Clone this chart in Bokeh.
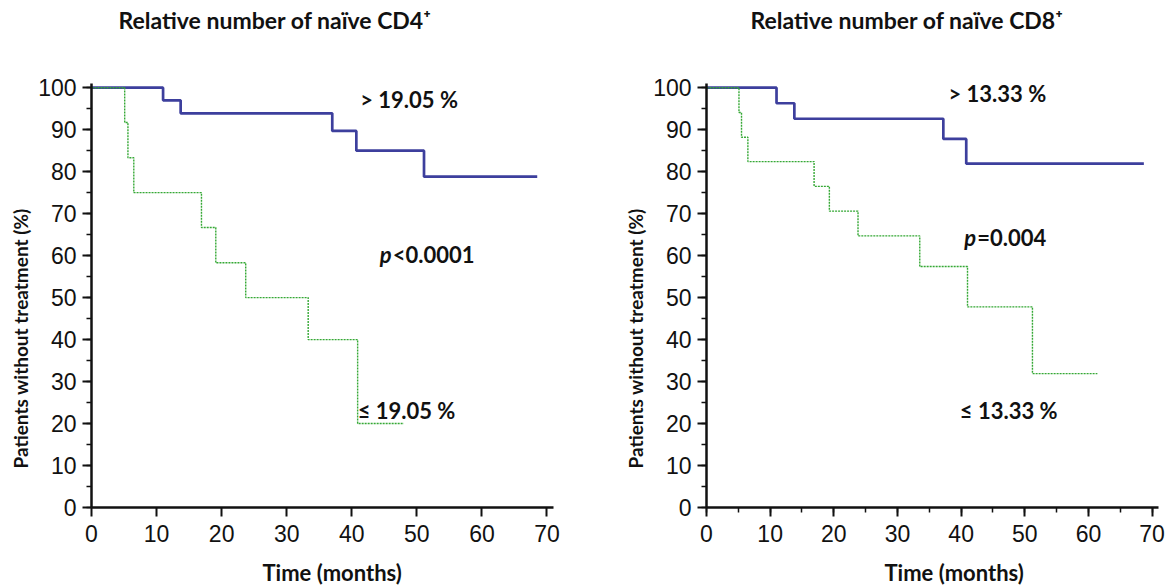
from bokeh.plotting import figure
from bokeh.layouts import row
from bokeh.models import Label, SingleIntervalTicker, Range1d, Title, LinearAxis
from bokeh.embed import file_html
from bokeh.resources import INLINE

# ---- data ----
cd4_high_t = [0, 11.0, 13.7, 37.0, 40.7, 51.1, 68.5]
cd4_high_s = [100, 97.0, 93.9, 89.7, 85.0, 78.8, 78.8]
cd4_low_t = [0, 5.1, 5.6, 6.5, 16.9, 19.1, 23.7, 33.3, 40.9, 48.0]
cd4_low_s = [100, 91.7, 83.3, 75.0, 66.7, 58.3, 50.0, 40.0, 20.0, 20.0]

cd8_high_t = [0, 11.0, 13.8, 37.2, 40.8, 68.7]
cd8_high_s = [100, 96.3, 92.6, 87.8, 81.9, 81.9]
cd8_low_t = [0, 5.1, 5.5, 6.5, 16.9, 19.3, 23.8, 33.5, 41.0, 51.2, 61.4]
cd8_low_s = [100, 94.1, 88.2, 82.4, 76.5, 70.6, 64.7, 57.4, 47.8, 31.9, 31.9]

titles = ["Relative number of naïve CD4\u207a", "Relative number of naïve CD8\u207a"]
high_labels = ["> 19.05 %", "> 13.33 %"]
low_labels = ["\u2264 19.05 %", "\u2264 13.33 %"]
p_rest = ["<0.0001", "=0.004"]
x_label = "Time (months)"
y_label = "Patients without treatment (%)"

BLUE = "#3d3f9d"
GREEN = "#35a835"
BOLD_FONT = "Lato"
TICK_FONT = "Liberation Sans"
INK = "#111111"


def spacer(size):
    ax = LinearAxis(axis_line_color=None, major_tick_in=0, minor_tick_in=0,
                    major_tick_out=size, minor_tick_out=0,
                    major_tick_line_color="white", minor_tick_line_color=None,
                    major_label_text_color=None, major_label_standoff=0,
                    axis_label_standoff=0)
    return ax


def make_panel(width, bl, br, high_t, high_s, low_t, low_s, title, hi, lo, prest,
               title_off, xlab_off, hi_pos, lo_pos, p_pos, x_minor):
    p = figure(width=width, height=588, output_backend="svg", toolbar_location=None,
               x_range=Range1d(0, 71), y_range=Range1d(0, 101),
               min_border_left=bl, min_border_right=br,
               min_border_top=83, min_border_bottom=81)
    p.outline_line_color = None
    p.xgrid.visible = False
    p.ygrid.visible = False
    p.background_fill_color = "white"
    p.border_fill_color = "white"

    p.xaxis.ticker = SingleIntervalTicker(interval=10, num_minor_ticks=2 if x_minor else 0)
    p.yaxis.ticker = SingleIntervalTicker(interval=10, num_minor_ticks=2)
    for ax in (p.xaxis, p.yaxis):
        ax.axis_line_width = 2.5
        ax.axis_line_color = INK
        ax.major_tick_line_width = 2
        ax.major_tick_line_color = INK
        ax.minor_tick_line_width = 1.5
        ax.minor_tick_line_color = INK
        ax.major_tick_in = 0
        ax.major_tick_out = 9
        ax.minor_tick_in = 0
        ax.minor_tick_out = 5
        ax.major_label_text_font = TICK_FONT
        ax.major_label_text_font_size = "23px"
        ax.major_label_text_color = INK
    if not x_minor:
        p.xaxis.minor_tick_line_color = None
    p.xaxis.major_label_standoff = 8
    p.yaxis.major_label_standoff = 6

    # title above (spacer keeps it near the top edge)
    p.add_layout(spacer(48), "above")
    top = Title(text=title, align="left", offset=title_off, standoff=4,
                vertical_align="bottom",
                text_font=BOLD_FONT, text_font_style="bold", text_font_size="23px",
                text_color=INK)
    p.add_layout(top, "above")

    # x axis label below
    p.add_layout(spacer(12), "below")
    bottom = Title(text=x_label, align="left", offset=xlab_off, standoff=0,
                   vertical_align="bottom",
                   text_font=BOLD_FONT, text_font_style="bold", text_font_size="22px",
                   text_color=INK)
    p.add_layout(bottom, "below")

    side = Title(text=y_label, align="left", offset=39, standoff=7,
                 text_font=BOLD_FONT, text_font_style="bold", text_font_size="19px",
                 text_color=INK)
    p.add_layout(side, "left")

    p.step(high_t, high_s, mode="after", line_color=BLUE, line_width=2.7)
    p.step(low_t, low_s, mode="after", line_color=GREEN, line_width=1.4, line_dash="2 1")

    def lab(x, y, text, size="22px", style="bold", x_offset=0):
        p.add_layout(Label(x=x, y=y, text=text, text_font=BOLD_FONT,
                           text_font_style=style, text_font_size=size,
                           text_color=INK, text_align="left",
                           text_baseline="middle", x_offset=x_offset))

    lab(hi_pos[0], hi_pos[1], hi)
    lab(lo_pos[0], lo_pos[1], lo)
    lab(p_pos[0], p_pos[1], "p", style="bold italic")
    lab(p_pos[0], p_pos[1], prest, x_offset=13)
    return p


left = make_panel(600, 91, 47, cd4_high_t, cd4_high_s, cd4_low_t, cd4_low_s,
                  titles[0], high_labels[0], low_labels[0], p_rest[0],
                  27, 171, (41.3, 97.3), (40.9, 23.2), (44.3, 60.3), False)
right = make_panel(569, 106, 11, cd8_high_t, cd8_high_s, cd8_low_t, cd8_low_s,
                   titles[1], high_labels[1], low_labels[1], p_rest[1],
                   44, 178, (38.0, 98.6), (39.8, 23.2), (40.5, 64.4), True)

layout = row(left, right)
open("out.html", "w").write(file_html(layout, INLINE))
